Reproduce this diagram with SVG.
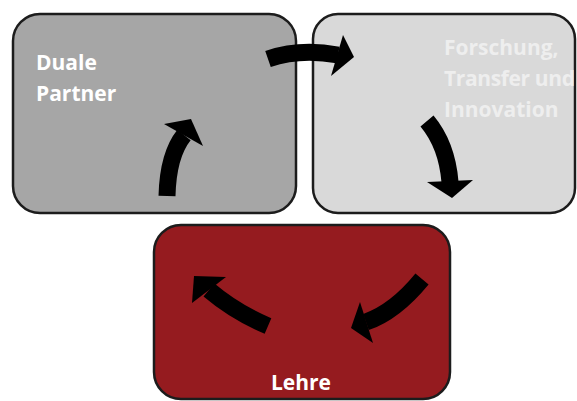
<svg xmlns="http://www.w3.org/2000/svg" width="577" height="401" viewBox="0 0 577 401">
<style>
.box{stroke:#1c1c1c;stroke-width:2.5}
.lbl{font-family:"Open Sans","Noto Sans",sans-serif;font-weight:bold;font-size:21px;fill:#ffffff}
.faint{fill:#eeeeee}
.body{fill:none;stroke:#000;stroke-width:17;stroke-linecap:butt}
.head{fill:#000}
</style>
<rect width="577" height="401" fill="#ffffff"/>
<g id="node-duale-partner">
<rect class="box" x="13" y="14" width="283" height="199" rx="27" ry="27" fill="#a6a6a6"/>
<text class="lbl" x="36" y="70">Duale</text>
<text class="lbl" x="36" y="101">Partner</text>
</g>
<g id="node-forschung">
<rect class="box" x="313" y="14" width="262" height="199" rx="25" ry="25" fill="#d9d9d9"/>
<text class="lbl faint" x="444" y="55">Forschung,</text>
<text class="lbl faint" x="444" y="86" textLength="131" lengthAdjust="spacing">Transfer und</text>
<text class="lbl faint" x="444" y="117">Innovation</text>
</g>
<g id="node-lehre">
<rect class="box" x="154" y="225" width="296" height="174" rx="27" ry="27" fill="#951b1f"/>
<text class="lbl" x="301" y="390" text-anchor="middle">Lehre</text>
</g>
<g id="connectors">
<path class="body" d="M268,59 Q300,48 338,55"/>
<polygon class="head" points="343,35 354,57 331,76"/>
<path class="body" d="M427,121 Q447,145 450,182"/>
<polygon class="head" points="427,182 473,180 452,198"/>
<path class="body" d="M422,279 Q395,312 366,322"/>
<polygon class="head" points="360,302 351,328 373,343"/>
<path class="body" d="M268,326 Q235,312 209,290"/>
<polygon class="head" points="226,277 194,276 192,303"/>
<path class="body" d="M167,196 Q168,155 184,135"/>
<polygon class="head" points="164,124 191,119 203,146"/>
</g>
</svg>
